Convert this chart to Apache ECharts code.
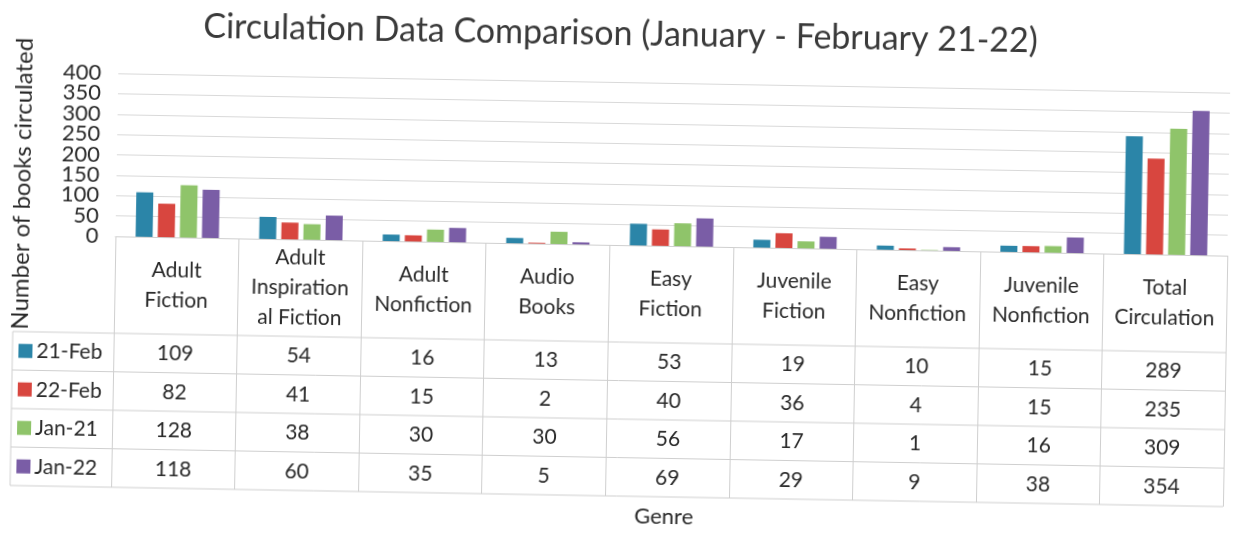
<!DOCTYPE html>
<html>
<head>
<meta charset="utf-8">
<script src="https://cdn.jsdelivr.net/npm/echarts@6/dist/echarts.min.js"></script>
<style>
html,body{margin:0;padding:0;background:#fff;overflow:hidden;}
#chart{width:1233px;height:534px;transform:rotate(1deg);transform-origin:616px 267px;}
</style>
</head>
<body>
<div id="chart"></div>
<script>
const categories = ['Adult\nFiction','Adult\nInspiration\nal Fiction','Adult\nNonfiction','Audio\nBooks','Easy\nFiction','Juvenile\nFiction','Easy\nNonfiction','Juvenile\nNonfiction','Total\nCirculation'];
const seriesNames = ['21-Feb','22-Feb','Jan-21','Jan-22'];
const feb21 = [109,54,16,13,53,19,10,15,289];
const feb22 = [82,41,15,2,40,36,4,15,235];
const jan21 = [128,38,30,30,56,17,1,16,309];
const jan22 = [118,60,35,5,69,29,9,38,354];
const yTickLabels = [0,50,100,150,200,250,300,350,400];
const titleText = 'Circulation Data Comparison (January - February 21-22)';
const yTitle = 'Number of books circulated';
const xTitle = 'Genre';

const seriesData = [feb21,feb22,jan21,jan22];
const colors = ['#2b85a8','#d8463f','#8fc46a','#7a5da6'];
const FONT = 'Lato, "Open Sans", sans-serif';
const TXT = '#2a2a2a';
const LINE = '#cfcfcf';

const gridLeft = 115, gridRight = 6, gridTop = 82, gridH = 163;
const baseY = gridTop + gridH;
const headerBottom = 342;
const rowH = 38.5;
const tableLeft = 14;
const tableBottom = headerBottom + rowH*4;

const chart = echarts.init(document.getElementById('chart'), null, {renderer:'canvas'});
chart.setOption({
  animation:false,
  backgroundColor:'#ffffff',
  title:{text:titleText,left:'center',top:12,textStyle:{fontFamily:FONT,fontSize:34,fontWeight:'normal',color:'#3a3a3a'}},
  grid:{left:gridLeft,right:gridRight,top:gridTop,height:gridH},
  xAxis:{type:'category',data:categories,
    axisLine:{show:true,lineStyle:{color:LINE}},
    axisTick:{show:true,length:tableBottom-baseY,lineStyle:{color:LINE}},
    axisLabel:{interval:0,margin:(headerBottom-baseY)/2,verticalAlign:'middle',lineHeight:30,fontFamily:FONT,fontSize:21,color:TXT,align:'center'}},
  yAxis:{type:'value',min:yTickLabels[0],max:yTickLabels[yTickLabels.length-1],interval:yTickLabels[1]-yTickLabels[0],
    axisLine:{show:false},axisTick:{show:false},
    axisLabel:{show:false},
    splitLine:{lineStyle:{color:'#d9d9d9'}}},
  series:seriesNames.map((n,i)=>({name:n,type:'bar',data:seriesData[i],barWidth:17,barGap:'30%',itemStyle:{color:colors[i]}}))
});

const g = [];
yTickLabels.forEach(v=>{
  const y = chart.convertToPixel({yAxisIndex:0}, v);
  g.push({type:'text',x:gridLeft-17,y:y,style:{text:String(v),fontFamily:FONT,fontSize:22,fill:TXT,textAlign:'right',textVerticalAlign:'middle'}});
});
for(let r=0;r<=4;r++){
  const y = headerBottom + r*rowH;
  g.push({type:'line',shape:{x1:tableLeft,y1:y,x2:1233-gridRight,y2:y},style:{stroke:LINE,lineWidth:1}});
}
g.push({type:'line',shape:{x1:tableLeft,y1:headerBottom,x2:tableLeft,y2:tableBottom},style:{stroke:LINE,lineWidth:1}});
seriesNames.forEach((n,r)=>{
  const cy = headerBottom + r*rowH + rowH/2;
  g.push({type:'rect',shape:{x:20,y:cy-7,width:14,height:14},style:{fill:colors[r]}});
  g.push({type:'text',x:38,y:cy,style:{text:n,fontFamily:FONT,fontSize:21,fill:TXT,textAlign:'left',textVerticalAlign:'middle'}});
  seriesData[r].forEach((v,i)=>{
    const cx = chart.convertToPixel({xAxisIndex:0}, i);
    g.push({type:'text',x:cx,y:cy,style:{text:String(v),fontFamily:FONT,fontSize:21,fill:TXT,textAlign:'center',textVerticalAlign:'middle'}});
  });
});
g.push({type:'text',x:21,y:194,rotation:Math.PI/2,style:{text:yTitle,fontFamily:FONT,fontSize:24,fill:TXT,textAlign:'center',textVerticalAlign:'middle'}});
g.push({type:'text',x:668,y:516,style:{text:xTitle,fontFamily:FONT,fontSize:22,fill:TXT,textAlign:'center',textVerticalAlign:'middle'}});
chart.setOption({graphic:g});
</script>
</body>
</html>
